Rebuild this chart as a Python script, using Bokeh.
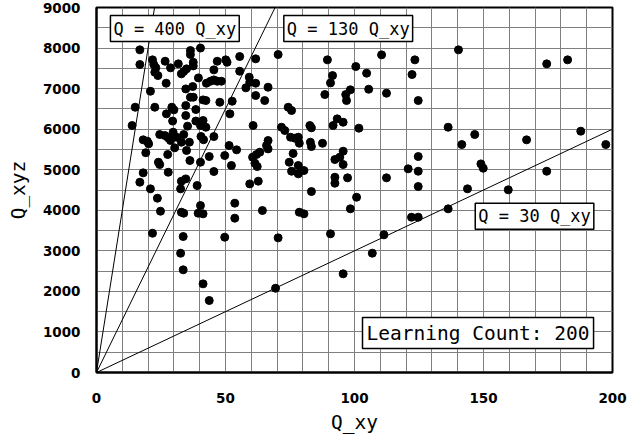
from bokeh.plotting import figure
from bokeh.models import FixedTicker, Label, ColumnDataSource
from bokeh.embed import file_html
from bokeh.resources import INLINE

# ---- data ----
q_xy = [
    16.8, 16.8, 21.7, 22.2, 23.0, 22.6, 23.8, 26.6, 27.0, 28.7, 31.7, 32.9, 33.8, 34.9, 36.4, 36.4, 37.5, 37.5,
    20.9, 34.6, 37.3, 36.4, 37.5, 15.0, 22.6, 29.2, 30.0, 27.1, 34.6, 38.5, 13.8, 29.5, 35.3, 34.6, 38.5,
    18.1, 19.7, 20.2, 24.5, 26.5, 27.8, 28.7, 29.7, 31.0, 33.8, 32.9, 30.3, 34.9, 19.1, 27.6, 36.0, 40.5, 41.5,
    39.5, 40.3,
    55.5, 61.7, 70.4, 46.8, 50.1, 50.6, 45.5, 55.5, 42.6, 44.2, 45.5, 46.8, 48.4, 59.2, 59.4, 61.7, 57.9, 66.5,
    61.7, 65.2, 41.3, 42.4, 47.8, 52.6, 51.7, 74.3, 75.6, 41.3, 40.3, 42.4, 60.7, 71.7, 73.0, 75.2, 76.9, 78.2,
    45.5, 51.4, 54.3, 66.5, 65.9, 66.5, 63.3, 62.0, 76.2,
    40.3, 43.7, 49.7, 60.5, 61.4, 62.3, 74.7, 78.2, 75.6, 78.2, 45.5, 52.3, 59.4, 62.7, 39.0, 40.3, 39.4, 41.3,
    53.6, 53.6, 64.3, 78.6, 80.4, 49.7, 70.4, 41.3, 43.7, 69.4,
    24.0, 24.5, 36.2, 18.1, 27.8, 16.8, 20.9, 32.9, 34.6, 32.6, 23.6, 24.8, 32.9, 33.8, 21.7, 33.6, 32.6, 33.6,
    89.5, 110.5, 123.4, 100.5, 104.7, 122.3, 91.5, 90.7, 88.5, 98.4, 96.6, 96.9, 105.5, 112.4, 124.7, 82.7, 83.3,
    93.3, 95.6, 91.7, 101.7, 136.3, 78.6, 82.9, 83.3, 87.6, 95.6, 94.3, 92.4, 95.6, 80.4, 124.7, 120.8, 124.7,
    92.4, 92.4, 97.3, 112.4, 124.7, 83.3, 100.8, 98.4, 122.1, 124.7, 136.3, 90.7, 111.4, 106.9, 95.6,
    140.3, 174.5, 182.6, 141.6, 146.6, 166.7, 187.7, 197.4, 149.0, 149.9, 174.5, 143.8, 159.6,
]
q_xyz = [
    7956, 7594, 7709, 7594, 7512, 7404, 7322, 7675, 7133, 7512, 7610, 7364, 7421, 7487, 7939, 7840, 7650, 7560,
    6935, 6993, 7051, 6788, 6788, 6541, 6541, 6541, 6476, 6378, 6583, 6484, 6090, 6200, 6075, 6336, 6200,
    5737, 5703, 5638, 5868, 5843, 5786, 5720, 5925, 5802, 5868, 5678, 5540, 5474, 5420, 5375, 5678, 5820, 5740,
    7264, 8000,
    7791, 7734, 7840, 7675, 7709, 7650, 7462, 7429, 7133, 7182, 7215, 7182, 7182, 7281, 7157, 7133, 7019, 7034,
    6829, 6706, 6722, 6706, 6664, 6689, 6378, 6541, 6460, 6213, 6090, 6048, 6090, 6048, 5966, 5802, 5777, 5802,
    5818, 5597, 5490, 5720, 5597, 5514, 5432, 5375, 5400,
    5185, 5325, 5350, 5309, 5160, 5079, 5185, 5104, 4963, 4898, 4956, 5104, 4650, 4717, 4610, 4117, 3928, 3912,
    4175, 3805, 3994, 3952, 3912, 3336, 3320, 2186, 1775, 2078,
    5185, 5128, 5227, 4923, 4938, 4692, 4528, 4717, 4774, 4528, 4298, 3977, 3952, 3928, 3434, 3353, 2941, 2532,
    7709, 7832, 7709, 7544, 7380, 7347, 7322, 7141, 6854, 6970, 6854, 6706, 6985, 6887, 6706, 6090, 6033,
    6254, 6171, 6090, 6024, 6048, 5653, 5678, 5572, 5653, 5457, 5309, 5251, 5128, 4980, 5325, 5022, 4963,
    4815, 4667, 4800, 4800, 4586, 4462, 4322, 4036, 3829, 3829, 4036, 3419, 3394, 2942, 2433,
    7956, 7610, 7709, 5621, 5868, 5736, 5950, 5621, 5144, 5037, 4963, 4529, 4504,
]

ratios = [400, 130, 30]
ratio_labels = ["Q = 400 Q_xy", "Q = 130 Q_xy", "Q = 30 Q_xy"]
label_pos_x = [5.4, 72.6, 146.8]
label_pos_y = [8800, 8800, 4175]
count_text = "Learning Count: 200"

x_max, y_max = 200, 9000
x_ticks = [0, 50, 100, 150, 200]
y_ticks = list(range(0, 9001, 1000))

p = figure(width=643, height=443, x_range=(0, x_max), y_range=(0, y_max),
           output_backend="svg", toolbar_location=None,
           min_border_left=96, min_border_right=31, min_border_top=7, min_border_bottom=71)
p.background_fill_color = "white"
p.border_fill_color = "white"
p.outline_line_color = "black"
p.outline_line_width = 2

p.xgrid.ticker = FixedTicker(ticks=list(range(0, x_max + 1, 10)))
p.ygrid.ticker = FixedTicker(ticks=list(range(0, y_max + 1, 500)))
for g in (p.xgrid, p.ygrid):
    g.grid_line_color = "#808080"
    g.grid_line_width = 1

p.xaxis.ticker = FixedTicker(ticks=x_ticks)
p.yaxis.ticker = FixedTicker(ticks=y_ticks)
for ax in (p.xaxis, p.yaxis):
    ax.major_tick_line_color = None
    ax.minor_tick_line_color = None
    ax.major_tick_out = 0
    ax.major_tick_in = 0
    ax.minor_tick_out = 0
    ax.minor_tick_in = 0
    ax.axis_line_color = "black"
    ax.axis_line_width = 2
    ax.major_label_text_font = "DejaVu Sans"
    ax.major_label_text_font_style = "bold"
    ax.major_label_text_font_size = "13.5px"
    ax.major_label_text_color = "black"
    ax.axis_label_text_font = "DejaVu Sans Mono"
    ax.axis_label_text_font_style = "normal"
    ax.axis_label_text_font_size = "19.5px"
    ax.axis_label_text_color = "black"
p.xaxis.axis_label = "Q_xy"
p.yaxis.axis_label = "Q_xyz"
p.xaxis.major_label_standoff = 20
p.yaxis.major_label_standoff = 16
p.xaxis.axis_label_standoff = 5
p.yaxis.axis_label_standoff = 10

# reference lines Q = k * Q_xy
for k in ratios:
    xe = min(x_max, y_max / k)
    p.line([0, xe], [0, k * xe], line_color="black", line_width=1)

src = ColumnDataSource(data=dict(x=q_xy, y=q_xyz))
p.scatter("x", "y", source=src, size=8, fill_color="black", line_color="black")

for t, lx, ly in zip(ratio_labels, label_pos_x, label_pos_y):
    p.add_layout(Label(x=lx, y=ly, text=t, anchor="top_left",
                       text_font="DejaVu Sans Mono", text_font_size="17px", text_color="black",
                       background_fill_color="white", border_line_color="black", border_line_width=1.5,
                       padding=3))

p.add_layout(Label(x=103.1, y=1356, text=count_text, anchor="top_left",
                   text_font="DejaVu Sans Mono", text_font_size="19.5px", text_color="black",
                   background_fill_color="white", border_line_color="black", border_line_width=1.5,
                   padding=4))

open("out.html", "w").write(file_html(p, INLINE))
